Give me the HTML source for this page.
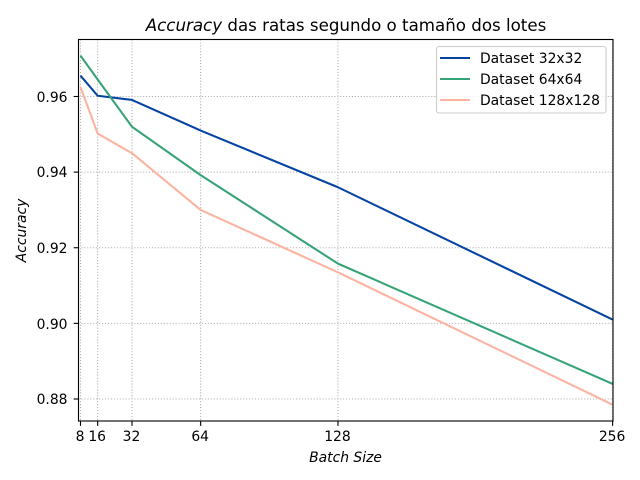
<!DOCTYPE html>
<html>
<head>
<meta charset="utf-8">
<title>Accuracy das ratas segundo o tamaño dos lotes</title>
<style>
html,body{margin:0;padding:0;background:#fff;}
svg{display:block;font-family:"DejaVu Sans","Liberation Sans",sans-serif;}
</style>
</head>
<body>
<svg id="chart" xmlns="http://www.w3.org/2000/svg" width="640" height="480" viewBox="0 0 640 480"></svg>
<script>
const batchSizes = [8, 16, 32, 64, 128, 256];
const yTicks = [0.88, 0.90, 0.92, 0.94, 0.96];
const yTickLabels = ["0.88", "0.90", "0.92", "0.94", "0.96"];
const accuracy32 = [0.9655, 0.9602, 0.9591, 0.9510, 0.9360, 0.9010];
const accuracy64 = [0.9708, 0.9645, 0.9520, 0.9392, 0.9158, 0.8840];
const accuracy128 = [0.9625, 0.9502, 0.9450, 0.9300, 0.9135, 0.8785];
const seriesNames = ["Dataset 32x32", "Dataset 64x64", "Dataset 128x128"];

const NS = "http://www.w3.org/2000/svg";
const svg = document.getElementById("chart");
const plot = {left: 78.5, right: 613, top: 39.5, bottom: 421};
const xScale = v => 80.5 + (v - 8) * (612.6 - 80.5) / (256 - 8);
const yScale = v => 96.5 + (0.96 - v) * (399 - 96.5) / (0.96 - 0.88);

function make(tag, attrs, text) {
  const el = document.createElementNS(NS, tag);
  for (const k in attrs) el.setAttribute(k, attrs[k]);
  if (text !== undefined) el.textContent = text;
  svg.appendChild(el);
  return el;
}

// grid
batchSizes.forEach(b => {
  const x = xScale(b);
  const el = make("line", {x1: x, x2: x, y1: plot.top, y2: plot.bottom, stroke: "#b0b0b0", "stroke-width": 1.11, "stroke-dasharray": "1.11 1.83"});
  
  
});
yTicks.forEach(t => {
  const y = yScale(t);
  const el = make("line", {x1: plot.left, x2: plot.right, y1: y, y2: y, stroke: "#b0b0b0", "stroke-width": 1.11, "stroke-dasharray": "1.11 1.83"});
  
  
});

// series
const seriesValues = [accuracy32, accuracy64, accuracy128];
const seriesColors = ["#0443a3", "#36a477", "#fcb3a0"];
seriesValues.forEach((vals, i) => {
  const pts = vals.map((v, j) => xScale(batchSizes[j]).toFixed(2) + "," + yScale(v).toFixed(2)).join(" ");
  const el = make("polyline", {points: pts, fill: "none", stroke: seriesColors[i], "stroke-width": 2.08, "stroke-linejoin": "round", "clip-path": "url(#plot-clip)"});
  
  
});

// spines
const frame = make("rect", {x: plot.left, y: plot.top, width: plot.right - plot.left, height: plot.bottom - plot.top, fill: "none", stroke: "#000", "stroke-width": 1.11});



// ticks
batchSizes.forEach(b => {
  const x = xScale(b);
  const tick = make("line", {x1: x, x2: x, y1: plot.bottom, y2: plot.bottom + 4.86, stroke: "#000", "stroke-width": 1.11});
  
  
  const lab = make("text", {x: x - 0.5, y: 441, "text-anchor": "middle", "font-size": 13.89, fill: "#000"}, String(b));
  
  
});
yTicks.forEach((t, i) => {
  const y = yScale(t);
  const tick = make("line", {x1: plot.left - 4.86, x2: plot.left, y1: y, y2: y, stroke: "#000", "stroke-width": 1.11});
  
  
  const lab = make("text", {x: 67.5, y: Math.round(y + 5.2), "text-anchor": "end", "font-size": 13.89, fill: "#000"}, yTickLabels[i]);
  
  
});

// legend
const legendBox = make("rect", {x: 436.5, y: 46.5, width: 169.5, height: 66.5, rx: 2.5, ry: 2.5, fill: "#fff", "fill-opacity": 0.8, stroke: "#cccccc", "stroke-width": 1.11});


seriesNames.forEach((name, i) => {
  const y = 58 + i * 21;
  const handle = make("line", {x1: 440, x2: 470, y1: y, y2: y, stroke: seriesColors[i], "stroke-width": 2.08});
  
  
  const lab = make("text", {x: 480, y: y + 5, "font-size": 13.89, fill: "#000"}, name);
  
  
});
</script>
<script>
(function () {
  const svgEl = document.getElementById("chart");
  const ns = "http://www.w3.org/2000/svg";
  const defs = document.createElementNS(ns, "defs");
  const cp = document.createElementNS(ns, "clipPath");
  cp.setAttribute("id", "plot-clip");
  const r = document.createElementNS(ns, "rect");
  r.setAttribute("x", 78.5);
  r.setAttribute("y", 39.5);
  r.setAttribute("width", 534.5);
  r.setAttribute("height", 381.5);
  cp.appendChild(r);
  defs.appendChild(cp);
  svgEl.insertBefore(defs, svgEl.firstChild);
})();
</script>
<svg style="position:absolute;left:0;top:0;overflow:visible" width="640" height="480" xmlns="http://www.w3.org/2000/svg">
  <text x="346" y="31" text-anchor="middle" font-size="16.67" fill="#000"><tspan font-style="italic">Accuracy</tspan> das ratas segundo o tamaño dos lotes</text>
  <text x="345.5" y="462" text-anchor="middle" font-size="13.89" font-style="italic" fill="#000">Batch Size</text>
  <text transform="translate(26 230.5) rotate(-90)" text-anchor="middle" font-size="13.89" font-style="italic" fill="#000">Accuracy</text>
</svg>
</body>
</html>
